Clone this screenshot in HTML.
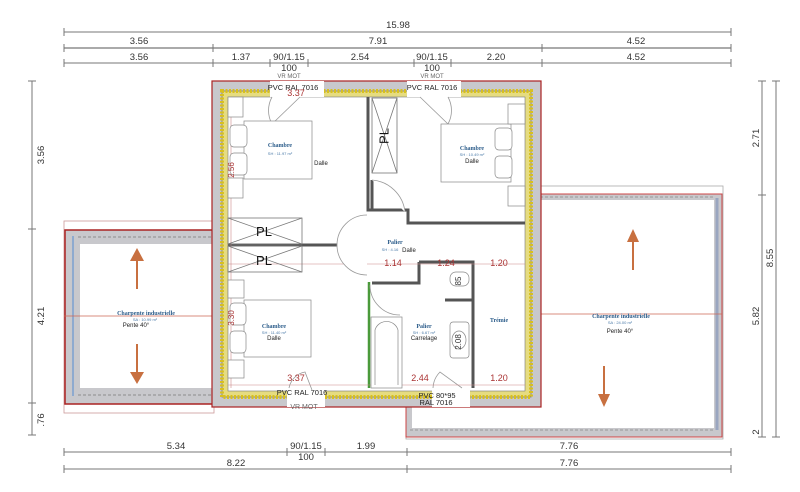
<!DOCTYPE html>
<html><head><meta charset="utf-8"><style>
html,body{margin:0;padding:0;background:#fff;}
svg{display:block;font-family:"Liberation Sans",sans-serif;}
.d{stroke:#777;stroke-width:1;fill:none}
.t{font-size:9.5px;fill:#333;text-anchor:middle}
.s{font-size:6px;fill:#666;text-anchor:middle}
.b{font-size:6px;fill:#2b5c8a;font-family:"Liberation Serif",serif;font-weight:bold;text-anchor:middle}
.bs{font-size:4px;fill:#4a7aa8;text-anchor:middle}
.k{font-size:6px;fill:#222;text-anchor:middle}
.r{font-size:9px;fill:#a33;text-anchor:middle}
.w{stroke:#555;stroke-width:3;fill:none}
.fx{stroke:#999;stroke-width:0.8;fill:#fff}
</style></head><body>
<svg width="800" height="492" viewBox="0 0 800 492" xmlns="http://www.w3.org/2000/svg">
<!-- top dimensions -->
<g class="d">
<line x1="64" y1="32" x2="731" y2="32"/><line x1="64" y1="28" x2="64" y2="36"/><line x1="731" y1="28" x2="731" y2="36"/>
<line x1="64" y1="48" x2="731" y2="48" stroke-width="2" stroke="#aaa"/>
<line x1="64" y1="44" x2="64" y2="52"/><line x1="213" y1="44" x2="213" y2="52"/><line x1="542" y1="44" x2="542" y2="52"/><line x1="731" y1="44" x2="731" y2="52"/>
<line x1="64" y1="63" x2="731" y2="63"/>
<line x1="64" y1="59" x2="64" y2="67"/><line x1="213" y1="59" x2="213" y2="67"/><line x1="270" y1="59" x2="270" y2="67"/><line x1="308" y1="59" x2="308" y2="67"/><line x1="414" y1="59" x2="414" y2="67"/><line x1="451" y1="59" x2="451" y2="67"/><line x1="542" y1="59" x2="542" y2="67"/><line x1="731" y1="59" x2="731" y2="67"/>
</g>
<text class="t" x="398" y="28">15.98</text>
<text class="t" x="139" y="44">3.56</text><text class="t" x="378" y="44">7.91</text><text class="t" x="636" y="44">4.52</text>
<text class="t" x="139" y="60">3.56</text><text class="t" x="241" y="60">1.37</text><text class="t" x="289" y="60">90/1.15</text><text class="t" x="360" y="60">2.54</text><text class="t" x="432" y="60">90/1.15</text><text class="t" x="496" y="60">2.20</text><text class="t" x="636" y="60">4.52</text>
<text class="t" x="289" y="71">100</text><text class="t" x="432" y="71">100</text>
<text class="s" x="289" y="78">VR MOT</text><text class="s" x="432" y="78">VR MOT</text>
<!-- side dims -->
<g class="d">
<line x1="32" y1="81" x2="32" y2="435"/><line x1="28" y1="81" x2="36" y2="81"/><line x1="28" y1="229" x2="36" y2="229"/><line x1="28" y1="403" x2="36" y2="403"/><line x1="28" y1="435" x2="36" y2="435"/>
<line x1="762" y1="81" x2="762" y2="437"/><line x1="758" y1="81" x2="766" y2="81"/><line x1="758" y1="195" x2="766" y2="195"/><line x1="758" y1="437" x2="766" y2="437"/>
<line x1="776" y1="81" x2="776" y2="437"/><line x1="772" y1="81" x2="780" y2="81"/><line x1="772" y1="437" x2="780" y2="437"/>
</g>
<text class="t" transform="translate(44,155) rotate(-90)">3.56</text>
<text class="t" transform="translate(44,316) rotate(-90)">4.21</text>
<text class="t" transform="translate(44,420) rotate(-90)">.76</text>
<text class="t" transform="translate(759,138) rotate(-90)">2.71</text>
<text class="t" transform="translate(759,316) rotate(-90)">5.82</text>
<text class="t" transform="translate(773,258) rotate(-90)">8.55</text>
<text class="t" transform="translate(759,432) rotate(-90)">2</text>
<!-- bottom dims -->
<g class="d">
<line x1="64" y1="469" x2="731" y2="469"/><line x1="64" y1="465" x2="64" y2="473"/><line x1="407" y1="465" x2="407" y2="473"/><line x1="731" y1="465" x2="731" y2="473"/>
<line x1="64" y1="452" x2="731" y2="452"/><line x1="64" y1="448" x2="64" y2="456"/><line x1="287" y1="448" x2="287" y2="456"/><line x1="325" y1="448" x2="325" y2="456"/><line x1="407" y1="448" x2="407" y2="456"/><line x1="731" y1="448" x2="731" y2="456"/>
</g>
<text class="t" x="176" y="449">5.34</text><text class="t" x="306" y="449">90/1.15</text><text class="t" x="366" y="449">1.99</text><text class="t" x="569" y="449">7.76</text>
<text class="t" x="306" y="460">100</text>
<text class="t" x="236" y="466">8.22</text><text class="t" x="569" y="466">7.76</text>
<!-- left wing -->
<rect x="64" y="221" width="150" height="192" fill="#fff" stroke="#c99" stroke-width="0.8"/>
<rect x="65" y="230" width="148" height="174" fill="#c8c8cc" stroke="#a22" stroke-width="1.5"/>
<rect x="80" y="244" width="133" height="144" fill="#fff"/>
<line x1="73" y1="236" x2="73" y2="396" stroke="#7aa0d0" stroke-width="1.5"/>
<line x1="78" y1="237" x2="213" y2="237" stroke="#777" stroke-dasharray="3,2" stroke-width="0.7"/>
<line x1="78" y1="395" x2="213" y2="395" stroke="#777" stroke-dasharray="3,2" stroke-width="0.7"/>
<line x1="64" y1="316" x2="213" y2="316" stroke="#c65" stroke-width="0.8"/>
<line x1="137" y1="289" x2="137" y2="260" stroke="#c87040" stroke-width="2"/><polygon points="130,261 144,261 137,248" fill="#c87040"/>
<line x1="137" y1="344" x2="137" y2="373" stroke="#c87040" stroke-width="2"/><polygon points="130,372 144,372 137,384" fill="#c87040"/>
<text class="b" x="146" y="315">Charpente industrielle</text><text class="bs" x="145" y="321">SA : 10.99 m²</text><text class="k" x="136" y="327" style="font-family:'Liberation Sans'">Pente 40°</text>
<!-- right wing -->
<rect x="406" y="186" width="317" height="253" fill="#fff" stroke="#aaa" stroke-width="0.8"/>
<rect x="406" y="194" width="316" height="243" fill="#c8c8cc" stroke="#c44" stroke-width="1"/>
<rect x="412" y="200" width="302" height="228" fill="#fff"/>
<line x1="717" y1="198" x2="717" y2="430" stroke="#9aa6c0" stroke-width="3"/>
<line x1="410" y1="197" x2="714" y2="197" stroke="#888" stroke-dasharray="3,2" stroke-width="0.7"/>
<line x1="410" y1="430" x2="714" y2="430" stroke="#888" stroke-dasharray="3,2" stroke-width="0.7"/>
<line x1="539" y1="314" x2="722" y2="314" stroke="#c65" stroke-width="0.8"/>
<line x1="633" y1="270" x2="633" y2="240" stroke="#c87040" stroke-width="2"/><polygon points="627,242 639,242 633,229" fill="#c87040"/>
<line x1="604" y1="366" x2="604" y2="395" stroke="#c87040" stroke-width="2"/><polygon points="598,394 610,394 604,407" fill="#c87040"/>
<text class="b" x="621" y="318">Charpente industrielle</text><text class="bs" x="620" y="324">SA : 24.00 m²</text><text class="k" x="620" y="333" style="font-family:'Liberation Sans'">Pente 40°</text>
<!-- main building -->
<rect x="212" y="81" width="329" height="326" fill="#c8c8cc" stroke="#a22" stroke-width="1.2"/>
<rect x="222" y="91" width="309" height="306" fill="#e6dc80" stroke="#777" stroke-width="0.8"/>
<rect x="222" y="91" width="309" height="306" fill="none" stroke="#d8c020" stroke-width="4" stroke-dasharray="2,1.5"/>
<rect x="228" y="97" width="297" height="294" fill="#fff" stroke="#777" stroke-width="0.6"/>
<!-- window openings -->
<rect x="270" y="81" width="54" height="16" fill="#fff"/><rect x="407" y="81" width="54" height="16" fill="#fff"/>
<rect x="287" y="388" width="38" height="19" fill="#fff"/><rect x="432" y="388" width="38" height="19" fill="#fff"/>
<text class="k" x="293" y="90" style="font-size:7.5px">PVC RAL 7016</text><text class="k" x="432" y="90" style="font-size:7.5px">PVC RAL 7016</text>
<text class="s" x="304" y="409" style="font-size:7px">VR MOT</text>
<text class="k" x="302" y="395" style="font-size:7.5px">PVC RAL 7016</text>
<text class="k" x="437" y="398" style="font-size:7.5px">PVC  80*95</text><text class="k" x="436" y="405" style="font-size:7.5px">RAL 7016</text>
<path d="M272,97 A28,28 0 0 0 272,124 L300,97" class="fx"/>
<path d="M448,97 A28,28 0 0 1 448,124 L420,97" class="fx"/>
<path d="M289,388 A20,20 0 0 1 305,372 L312,390" class="fx"/>
<path d="M433,388 A24,24 0 0 1 440,372 L462,388" class="fx"/>
<!-- interior walls -->
<g class="w">
<path d="M368,97 V210 H372"/>
<path d="M372,180 V210 H408 V223 H525"/>
<path d="M228,245 H367"/>
<path d="M419,262 H473 V388"/>
<path d="M419,262 V283 H372"/>
<path d="M445,300 H473"/>
</g>
<line x1="369" y1="282" x2="369" y2="388" stroke="#4a9a3a" stroke-width="2.5"/>
<line x1="228" y1="264" x2="525" y2="264" stroke="#c88" stroke-width="0.6"/>
<line x1="228" y1="385" x2="525" y2="385" stroke="#c88" stroke-width="0.6"/>
<line x1="231" y1="100" x2="231" y2="388" stroke="#c88" stroke-width="0.6"/>
<!-- PL closets -->
<g stroke="#777" stroke-width="0.8" fill="none">
<rect x="372" y="98" width="25" height="75"/><path d="M372,98 L397,173 M397,98 L372,173"/>
<rect x="228" y="218" width="74" height="26"/><path d="M228,218 L302,244 M302,218 L228,244"/>
<rect x="228" y="246" width="74" height="26"/><path d="M228,246 L302,272 M302,246 L228,272"/>
</g>
<text x="385" y="136" font-size="13" transform="rotate(-90 385 136)" text-anchor="middle" dominant-baseline="middle" fill="#111">PL</text>
<text x="264" y="236" font-size="13" text-anchor="middle" fill="#111">PL</text>
<text x="264" y="265" font-size="13" text-anchor="middle" fill="#111">PL</text>
<!-- doors -->
<path d="M372,180 A36,36 0 0 1 405,212" class="fx"/>
<path d="M367,215 A30,30 0 0 0 367,275" class="fx"/>
<path d="M370,285 A30,30 0 0 0 400,315" class="fx" fill="none"/>
<!-- furniture -->
<g stroke="#888" stroke-width="0.7" fill="#fff">
<rect x="244" y="121" width="68" height="58"/><rect x="230" y="125" width="17" height="22" rx="4"/><rect x="230" y="153" width="17" height="22" rx="4"/>
<rect x="228" y="97" width="15" height="20"/><rect x="228" y="178" width="15" height="20"/>
<rect x="441" y="124" width="70" height="58"/><rect x="495" y="128" width="17" height="22" rx="4"/><rect x="495" y="156" width="17" height="22" rx="4"/>
<rect x="508" y="104" width="17" height="20"/><rect x="508" y="186" width="17" height="20"/>
<rect x="244" y="300" width="67" height="57"/><rect x="230" y="303" width="16" height="22" rx="4"/><rect x="230" y="331" width="16" height="22" rx="4"/>
<rect x="228" y="280" width="16" height="18"/><rect x="228" y="360" width="16" height="18"/>
<rect x="371" y="317" width="31" height="71"/><path d="M375,385 V330 A12,12 0 0 1 398,330 V385"/>
<rect x="450" y="272" width="19" height="14" rx="6"/>
<rect x="450" y="322" width="19" height="36" rx="3"/><ellipse cx="459" cy="340" rx="7" ry="9"/>
</g>
<text class="b" x="280" y="147">Chambre</text><text class="bs" x="280" y="155">SH : 11.97 m²</text><text class="k" x="321" y="165">Dalle</text>
<text class="b" x="472" y="150">Chambre</text><text class="bs" x="472" y="156">SH : 10.49 m²</text><text class="k" x="472" y="163">Dalle</text>
<text class="b" x="274" y="328">Chambre</text><text class="bs" x="274" y="334">SH : 11.40 m²</text><text class="k" x="274" y="340">Dalle</text>
<text class="b" x="395" y="244">Palier</text><text class="bs" x="390" y="251">SH : 4.16</text><text class="k" x="409" y="252">Dalle</text>
<text class="b" x="424" y="328">Palier</text><text class="bs" x="424" y="334">SH : 6.67 m²</text><text class="k" x="424" y="340">Carrelage</text>
<text class="b" x="499" y="322">Trémie</text>
<text class="r" x="393" y="266">1.14</text><text class="r" x="446" y="266">1.24</text><text class="r" x="499" y="266">1.20</text>
<text class="r" x="420" y="381">2.44</text><text class="r" x="499" y="381">1.20</text><text class="r" x="296" y="381">3.37</text>
<text class="r" x="296" y="96">3.37</text>
<text x="461" y="281" font-size="8" fill="#333" transform="rotate(-90 461 281)" text-anchor="middle">85</text>
<text x="461" y="342" font-size="8" fill="#333" transform="rotate(-90 461 342)" text-anchor="middle">2.08</text>
<text x="234" y="170" font-size="8" fill="#a33" transform="rotate(-90 234 170)" text-anchor="middle">2.56</text>
<text x="234" y="318" font-size="8" fill="#a33" transform="rotate(-90 234 318)" text-anchor="middle">3.30</text>
</svg>
</body></html>
